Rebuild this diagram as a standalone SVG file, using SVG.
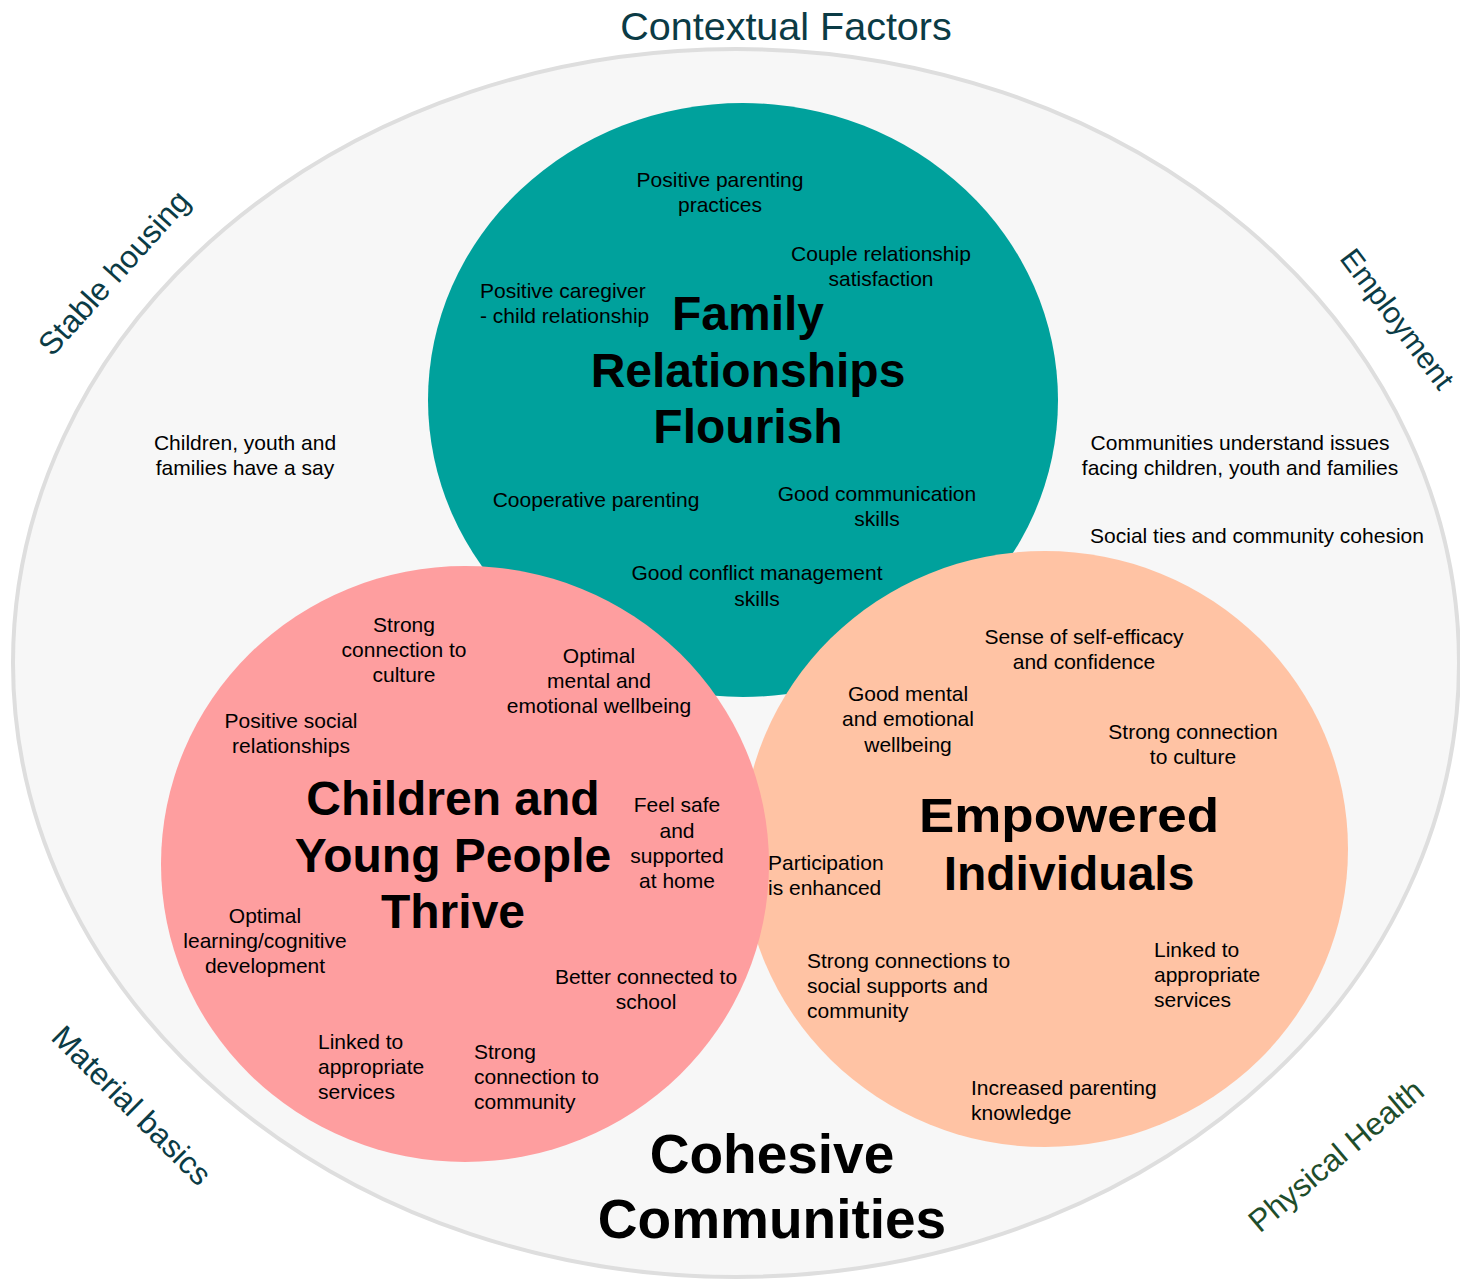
<svg xmlns="http://www.w3.org/2000/svg" width="1460" height="1285" viewBox="0 0 1460 1285">
<style>
.s{font-family:"Liberation Sans",Arial,sans-serif;font-size:21px;fill:#000}
.c{text-anchor:middle}
.h{font-family:"Liberation Sans",Arial,sans-serif;font-weight:bold;font-size:48px;fill:#000;text-anchor:middle}
.ctx{font-family:"Liberation Sans",Arial,sans-serif;font-size:31.5px;fill:#0b3b45;text-anchor:middle}
</style>
<rect width="1460" height="1285" fill="#fff"/>
<g id="context">
<ellipse cx="736" cy="663" rx="723" ry="614" fill="#f7f7f7" stroke="#dedede" stroke-width="4"/>
<text class="ctx" x="786" y="40" style="font-size:39.5px">Contextual Factors</text>
<text class="ctx" transform="translate(122,280) rotate(-48)">Stable housing</text>
<text class="ctx" transform="translate(1389,325) rotate(53)" style="font-size:30px">Employment</text>
<text class="ctx" transform="translate(124,1113) rotate(45)">Material basics</text>
<text class="ctx" transform="translate(1343,1164) rotate(-40)" style="fill:#1e4d2b">Physical Health</text>
</g>
<g id="outside-text">
<text class="s c" x="245" y="450">Children, youth and</text>
<text class="s c" x="245" y="475">families have a say</text>
<text class="s c" x="1240" y="450">Communities understand issues</text>
<text class="s c" x="1240" y="475">facing children, youth and families</text>
<text class="s c" x="1257" y="543">Social ties and community cohesion</text>
</g>
<g id="family">
<ellipse cx="743" cy="400" rx="315" ry="297" fill="#00a19c"/>
<text class="h" x="748" y="330">Family</text>
<text class="h" x="748" y="387">Relationships</text>
<text class="h" x="748" y="443">Flourish</text>
<text class="s c" x="720" y="187">Positive parenting</text>
<text class="s c" x="720" y="212">practices</text>
<text class="s c" x="881" y="261">Couple relationship</text>
<text class="s c" x="881" y="286">satisfaction</text>
<text class="s" x="480" y="298">Positive caregiver</text>
<text class="s" x="480" y="323">- child relationship</text>
<text class="s c" x="596" y="507">Cooperative parenting</text>
<text class="s c" x="877" y="501">Good communication</text>
<text class="s c" x="877" y="526">skills</text>
<text class="s c" x="757" y="580">Good conflict management</text>
<text class="s c" x="757" y="606">skills</text>
</g>
<g id="empowered">
<ellipse cx="1045" cy="849" rx="303" ry="298" fill="#ffc3a4"/>
<text class="h" x="1069" y="832" textLength="300" lengthAdjust="spacingAndGlyphs">Empowered</text>
<text class="h" x="1069" y="890">Individuals</text>
<text class="s c" x="1084" y="644">Sense of self-efficacy</text>
<text class="s c" x="1084" y="669">and confidence</text>
<text class="s c" x="908" y="701">Good mental</text>
<text class="s c" x="908" y="726">and emotional</text>
<text class="s c" x="908" y="752">wellbeing</text>
<text class="s c" x="1193" y="739">Strong connection</text>
<text class="s c" x="1193" y="764">to culture</text>
<text class="s" x="768" y="870">Participation</text>
<text class="s" x="768" y="895">is enhanced</text>
<text class="s" x="807" y="968">Strong connections to</text>
<text class="s" x="807" y="993">social supports and</text>
<text class="s" x="807" y="1018">community</text>
<text class="s" x="1154" y="957">Linked to</text>
<text class="s" x="1154" y="982">appropriate</text>
<text class="s" x="1154" y="1007">services</text>
<text class="s" x="971" y="1095">Increased parenting</text>
<text class="s" x="971" y="1120">knowledge</text>
</g>
<g id="children">
<ellipse cx="465" cy="864" rx="304" ry="298" fill="#fe9e9f"/>
<text class="h" x="453" y="815">Children and</text>
<text class="h" x="453" y="872">Young People</text>
<text class="h" x="453" y="928">Thrive</text>
<text class="s c" x="404" y="632">Strong</text>
<text class="s c" x="404" y="657">connection to</text>
<text class="s c" x="404" y="682">culture</text>
<text class="s c" x="599" y="663">Optimal</text>
<text class="s c" x="599" y="688">mental and</text>
<text class="s c" x="599" y="713">emotional wellbeing</text>
<text class="s c" x="291" y="728">Positive social</text>
<text class="s c" x="291" y="753">relationships</text>
<text class="s c" x="677" y="812">Feel safe</text>
<text class="s c" x="677" y="838">and</text>
<text class="s c" x="677" y="863">supported</text>
<text class="s c" x="677" y="888">at home</text>
<text class="s c" x="265" y="923">Optimal</text>
<text class="s c" x="265" y="948">learning/cognitive</text>
<text class="s c" x="265" y="973">development</text>
<text class="s c" x="646" y="984">Better connected to</text>
<text class="s c" x="646" y="1009">school</text>
<text class="s" x="318" y="1049">Linked to</text>
<text class="s" x="318" y="1074">appropriate</text>
<text class="s" x="318" y="1099">services</text>
<text class="s" x="474" y="1059">Strong</text>
<text class="s" x="474" y="1084">connection to</text>
<text class="s" x="474" y="1109">community</text>
</g>
<g id="cohesive">
<text class="h" x="772" y="1173" style="font-size:55px">Cohesive</text>
<text class="h" x="772" y="1238" style="font-size:55px">Communities</text>
</g>
<g id="connectors"></g>
</svg>
